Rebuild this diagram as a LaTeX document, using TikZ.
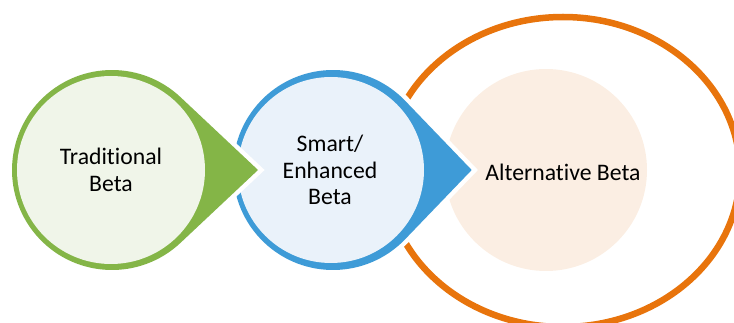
\documentclass[tikz,border=0pt]{standalone}
\usepackage{fontspec}
\setmainfont{Carlito}[Ligatures={NoCommon}]
\usetikzlibrary{calc}

\definecolor{leafgreen}{HTML}{84B547}
\definecolor{leafpale}{HTML}{F0F5E9}
\definecolor{skyblue}{HTML}{3E9BD7}
\definecolor{skypale}{HTML}{EAF2FA}
\definecolor{ringorange}{HTML}{E8740C}
\definecolor{peach}{HTML}{FBEEE3}

% Teardrop: circle of radius #3 at (#1,#2) with a point at (#4,#2),
% laid on a white halo so it cuts whatever lies beneath it.
\newcommand\teardrop[4]{%
  \pgfmathsetmacro\dropang{acos(#3/(#4-#1))}%
  \path[fill=white,draw=white,line width=9pt,line join=miter]
    (#4,#2) -- ($(#1,#2)+(\dropang:#3)$)
    arc[start angle=\dropang, end angle=360-\dropang, radius=#3] -- cycle;
  \path[fill=dropcolor]
    (#4,#2) -- ($(#1,#2)+(\dropang:#3)$)
    arc[start angle=\dropang, end angle=360-\dropang, radius=#3] -- cycle;
}

\tikzset{
  label text/.style={inner sep=0pt, align=center, text=black,
    font=\fontsize{23.7}{26.5}\selectfont},
}

\begin{document}
\begin{tikzpicture}[x=1pt,y=-1pt]
  \useasboundingbox (0,0) rectangle (734,323);
  \clip (0,0) rectangle (734,323);

  % outer orange ring and its pale core
  \draw[ringorange, line width=6.5pt] (563,172) ellipse[x radius=177, y radius=155];
  \fill[peach] (546,170) circle[radius=101];

  % blue teardrop
  \colorlet{dropcolor}{skyblue}
  \teardrop{333}{170}{100}{471.7}
  \fill[skypale] (331,170) circle[radius=93];

  % green teardrop
  \colorlet{dropcolor}{leafgreen}
  \teardrop{112}{170}{100}{258}
  \fill[leafpale] (111,170) circle[radius=94];

  \node[label text] (trad)  at (111,170) {Traditional\\Beta};
  \node[label text] (smart) at (330,170) {Smart/\\Enhanced\\Beta};
  \node[label text] (alt)   at (563,172) {Alternative Beta};
\end{tikzpicture}
\end{document}
